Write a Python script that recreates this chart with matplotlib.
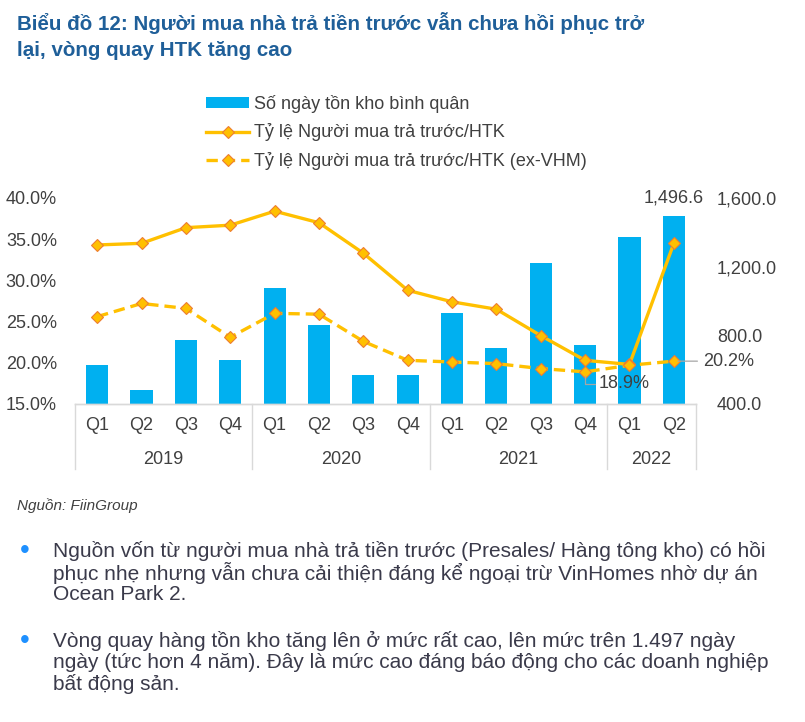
import matplotlib
matplotlib.use("Agg")
import matplotlib.pyplot as plt
from matplotlib.patches import Patch
from matplotlib.lines import Line2D
from matplotlib.ticker import FuncFormatter

plt.rcParams['font.family'] = ['Liberation Sans', 'DejaVu Sans']

# ---- data ----
quarters = ["Q1", "Q2", "Q3", "Q4", "Q1", "Q2", "Q3", "Q4",
            "Q1", "Q2", "Q3", "Q4", "Q1", "Q2"]
years = ["2019", "2020", "2021", "2022"]
quarters_per_year = [4, 4, 4, 2]
inventory_days = [625, 483, 773, 654, 1077, 858, 569, 567,
                  928, 728, 1220, 746, 1373, 1496.6]
prepay_ratio = [34.3, 34.5, 36.4, 36.7, 38.4, 37.0, 33.3, 28.8,
                27.4, 26.5, 23.3, 20.3, 19.8, 34.5]
prepay_ratio_ex_vhm = [25.6, 27.2, 26.6, 23.1, 26.0, 25.9, 22.6, 20.3,
                       20.1, 19.9, 19.3, 18.9, 19.7, 20.2]

title_lines = ["Biểu đồ 12: Người mua nhà trả tiền trước vẫn chưa hồi phục trở",
               "lại, vòng quay HTK tăng cao"]
legend_labels = ["Số ngày tồn kho bình quân",
                 "Tỷ lệ Người mua trả trước/HTK",
                 "Tỷ lệ Người mua trả trước/HTK (ex-VHM)"]
source = "Nguồn: FiinGroup"
bullets = [
    ["Nguồn vốn từ người mua nhà trả tiền trước (Presales/ Hàng tông kho) có hồi",
     "phục nhẹ nhưng vẫn chưa cải thiện đáng kể ngoại trừ VinHomes nhờ dự án",
     "Ocean Park 2."],
    ["Vòng quay hàng tồn kho tăng lên ở mức rất cao, lên mức trên 1.497 ngày",
     "ngày (tức hơn 4 năm). Đây là mức cao đáng báo động cho các doanh nghiệp",
     "bất động sản."],
]

# ---- style ----
W, H = 805, 722
BAR = "#00B0F0"
GOLD = "#FFC000"
MEDGE = "#ED7D31"
TXT = "#404040"
GRID = "#D9D9D9"
TITLE = "#1F5F99"
FS = 13

fig = plt.figure(figsize=(W / 100, H / 100), dpi=100)
fig.patch.set_facecolor("white")

def fx(px):
    return px / W

def fy(py):
    return 1 - py / H

ax_l, ax_r, ax_t, ax_b = 75, 696, 198, 404
ax = fig.add_axes([fx(ax_l), fy(ax_b), (ax_r - ax_l) / W, (ax_b - ax_t) / H])
ax2 = ax.twinx()

x = list(range(len(quarters)))
DASH = (0, (3.4, 1.8))

# bars on the primary axes (right scale)
ax.bar(x, inventory_days, width=0.5, color=BAR, zorder=2)
ax.set_ylim(400, 1600)
ax.set_yticks([400, 800, 1200, 1600])
ax.yaxis.tick_right()
ax.yaxis.set_major_formatter(FuncFormatter(lambda v, p: f"{v:,.1f}"))
ax.set_xlim(-0.5, len(quarters) - 0.5)
ax.set_xticks([])

# lines on the twin axes (left scale)
ax2.plot(x, prepay_ratio, color=GOLD, lw=2.4, marker="D", ms=6.5,
         mfc=GOLD, mec=MEDGE, mew=0.8, zorder=3)
ax2.plot(x, prepay_ratio_ex_vhm, color=GOLD, lw=2.4, ls=DASH,
         marker="D", ms=6.5, mfc=GOLD, mec=MEDGE, mew=0.8, zorder=3)
ax2.set_ylim(15, 40)
ax2.set_yticks([15, 20, 25, 30, 35, 40])
ax2.yaxis.tick_left()
ax2.yaxis.set_major_formatter(FuncFormatter(lambda v, p: f"{v:.1f}%"))

for a in (ax, ax2):
    for s in ("top", "left", "right"):
        a.spines[s].set_visible(False)
    a.spines["bottom"].set_color(GRID)
    a.spines["bottom"].set_linewidth(1.0)
    a.tick_params(axis="y", length=0, labelsize=FS, labelcolor=TXT)

ax.tick_params(axis="y", pad=15)
ax2.tick_params(axis="y", pad=13)
for lab in ax.get_yticklabels():
    lab.set_horizontalalignment("left")

# category axis labels
xt = ax.get_xaxis_transform()
hax = ax_b - ax_t
for i, q in enumerate(quarters):
    ax.text(i, -(426 - ax_b) / hax, q, transform=xt, ha="center", va="center",
            fontsize=FS, color=TXT, clip_on=False)
start = 0
bounds = [-0.5]
for yr, n in zip(years, quarters_per_year):
    ax.text(start + (n - 1) / 2, -(459 - ax_b) / hax, yr, transform=xt,
            ha="center", va="center", fontsize=FS, color=TXT, clip_on=False)
    start += n
    bounds.append(start - 0.5)
for b in bounds:
    ax.plot([b, b], [0, -(469 - ax_b) / hax], transform=xt, color=GRID,
            lw=1.0, clip_on=False)

# annotations
last = len(quarters) - 1
ax.annotate(f"{inventory_days[last]:,.1f}", xy=(last, inventory_days[last]),
            xytext=(0, 13), textcoords="offset points", ha="center",
            va="center", fontsize=FS, color=TXT)
i_min = prepay_ratio_ex_vhm.index(min(prepay_ratio_ex_vhm))
ax2.annotate(f"{prepay_ratio_ex_vhm[i_min]:.1f}%",
             xy=(i_min, prepay_ratio_ex_vhm[i_min]),
             xytext=(10, -8.5), textcoords="offset points", ha="left",
             va="center", fontsize=FS, color=TXT,
             arrowprops=dict(arrowstyle="-", color="#A6A6A6", lw=0.9,
                             relpos=(0, 0.5), shrinkA=1, shrinkB=3,
                             connectionstyle="angle,angleA=0,angleB=90,rad=0"))
ax2.annotate(f"{prepay_ratio_ex_vhm[last]:.1f}%",
             xy=(last, prepay_ratio_ex_vhm[last]),
             xytext=(21, 0), textcoords="offset points", ha="left",
             va="center", fontsize=FS, color=TXT,
             arrowprops=dict(arrowstyle="-", color="#A6A6A6", lw=0.9,
                             relpos=(0, 0.5), shrinkA=2, shrinkB=3))

# legend
handles = [Patch(facecolor=BAR, edgecolor="none"),
           Line2D([], [], color=GOLD, lw=2.4, marker="D", ms=6.5, mfc=GOLD,
                  mec=MEDGE, mew=0.8),
           Line2D([], [], color=GOLD, lw=2.4, ls=DASH, marker="D",
                  ms=6.5, mfc=GOLD, mec=MEDGE, mew=0.8)]
leg = fig.legend(handles, legend_labels, loc="upper left",
                 bbox_to_anchor=(fx(206), fy(95)), frameon=False,
                 fontsize=FS, handlelength=2.4, handleheight=0.5,
                 handletextpad=0.25, labelspacing=0.58, borderpad=0,
                 borderaxespad=0)
for t in leg.get_texts():
    t.set_color(TXT)

# title
for k, line in enumerate(title_lines):
    fig.text(fx(17), fy(23 + 27 * k), line, fontsize=14.8, fontweight="bold",
             color=TITLE, ha="left", va="center")

# source
fig.text(fx(17), fy(506), source, fontsize=11, style="italic",
         color="#404040", ha="left", va="center")

# bullets
bullet_y = [[551, 573, 595], [641, 662, 684]]
for lines, ys in zip(bullets, bullet_y):
    fig.text(fx(25), fy(ys[0]), "•", fontsize=20, color="#1E90FF",
             ha="center", va="center")
    for line, yy in zip(lines, ys):
        fig.text(fx(53), fy(yy), line, fontsize=15, color="#3A3A4A",
                 ha="left", va="center")

fig.savefig("out.png", dpi=100, facecolor="white")
